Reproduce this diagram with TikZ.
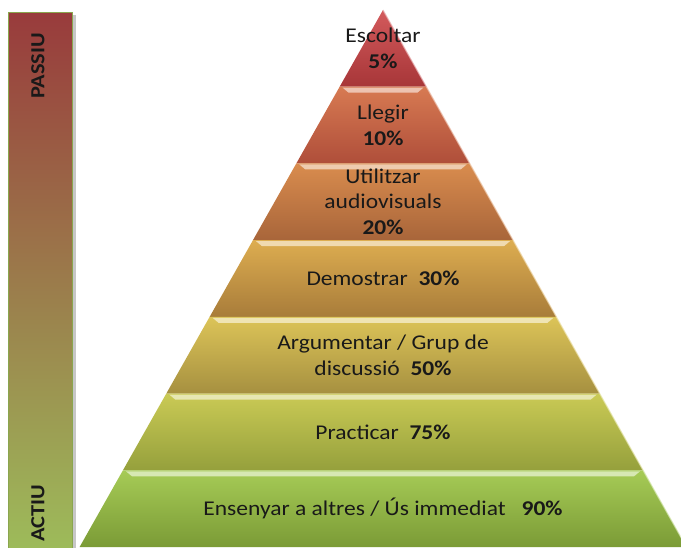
\documentclass[tikz,border=0pt]{standalone}
\usepackage{fontspec}
\setmainfont{Carlito}[FakeStretch=1.12]
\definecolor{barTop}{HTML}{993B3C}
\definecolor{barMid}{HTML}{958048}
\definecolor{barBot}{HTML}{9DBB5A}
\definecolor{barEdge}{HTML}{8AA64E}
\definecolor{oneT}{HTML}{D35A5C}
\definecolor{oneB}{HTML}{A73638}
\definecolor{twoT}{HTML}{D77A52}
\definecolor{twoB}{HTML}{AF4E3A}
\definecolor{threeT}{HTML}{D98C4E}
\definecolor{threeB}{HTML}{A8653A}
\definecolor{fourT}{HTML}{DDAD50}
\definecolor{fourB}{HTML}{A87C3A}
\definecolor{fiveT}{HTML}{DCC458}
\definecolor{fiveB}{HTML}{A69040}
\definecolor{sixT}{HTML}{CACA55}
\definecolor{sixB}{HTML}{95A03C}
\definecolor{sevenT}{HTML}{A6CB56}
\definecolor{sevenB}{HTML}{7B9B36}
\begin{document}
\begin{tikzpicture}[x=1pt,y=-1pt]
        \tikzset{layertext/.style={align=center,text=black!90,font=\fontsize{21}{25.5}\selectfont},
                 sidetext/.style={rotate=90,text=black!90,font=\fontsize{20}{24}\selectfont\bfseries}};
        \useasboundingbox (0,0) rectangle (681,547);
        \fill[black!22] (11,15) rectangle (76,550);
        \draw[barEdge,top color=barTop,middle color=barMid,bottom color=barBot] (8,12) rectangle (72,548);
        \node[sidetext] (passiu) at (38,66) {PASSIU};
        \node[sidetext] (actiu) at (38,513) {ACTIU};
        \foreach \i/\ct/\cb/\txt in {1/oneT/oneB/{Escoltar\\\textbf{5\%}},
                2/twoT/twoB/{Llegir\\\textbf{10\%}},
                3/threeT/threeB/{Utilitzar\\audiovisuals\\\textbf{20\%}},
                4/fourT/fourB/{Demostrar~~\textbf{30\%}},
                5/fiveT/fiveB/{Argumentar / Grup de\\discussió~~\textbf{50\%}},
                6/sixT/sixB/{Practicar~~\textbf{75\%}},
                7/sevenT/sevenB/{Ensenyar a altres / Ús immediat~~~\textbf{90\%}}}{
            \pgfmathsetmacro\yt{10+(\i-1)*76.714}
            \pgfmathsetmacro\yb{\yt+76.714}
            \pgfmathsetmacro\wt{0.565*(\yt-10)}
            \pgfmathsetmacro\wb{0.565*(\yb-10)}
            \shade[top color=\ct,bottom color=\cb] (383-\wt,\yt) -- (383+\wt,\yt) -- (383+\wb,\yb) -- (383-\wb,\yb) -- cycle;
            \draw[\ct!45!white,line width=1.2pt,opacity=0.7] (383+\wt,\yt) -- (383+\wb,\yb);
            \ifnum\i>1
                \fill[\ct!45!white] (383-\wt+3,\yt+1) -- (383+\wt-3,\yt+1) -- (383+\wt-9,\yt+6) -- (383-\wt+9,\yt+6) -- cycle;
            \fi
            \node[layertext] (layer\i) at (383,{(\yt+\yb)/2}) {\txt};
        }
    \end{tikzpicture}
\end{document}
